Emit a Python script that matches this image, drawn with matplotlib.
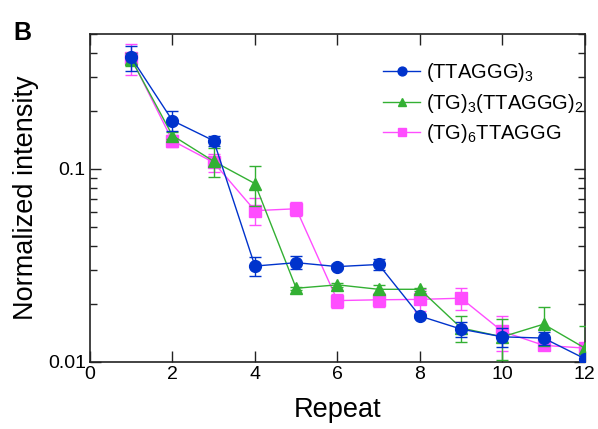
import numpy as np
import matplotlib
matplotlib.use("Agg")
import matplotlib.pyplot as plt
import matplotlib.ticker as ticker

plt.rcParams["font.family"] = ["Liberation Sans", "DejaVu Sans"]
plt.rcParams["mathtext.default"] = "regular"

# ── data ────────────────────────────────────────────────────────────────────
repeat = [1, 2, 3, 4, 5, 6, 7, 8, 9, 10, 11, 12]

ttaggg3 = [0.378, 0.178, 0.140, 0.0314, 0.0327, 0.0312, 0.0320, 0.0173, 0.0148, 0.0135, 0.0133, 0.0104]
ttaggg3_err = [0.057, 0.021, 0.009, 0.0036, 0.0025, 0.0008, 0.0020, 0.0005, 0.0014, 0.0015, 0.0010, 0.0003]

tg3_ttaggg2 = [0.370, 0.149, 0.1095, 0.084, 0.0241, 0.0251, 0.0238, 0.0238, 0.0150, 0.0135, 0.0157, 0.0118]
tg3_ttaggg2_err = [0.030, 0.006, 0.019, 0.020, 0.0005, 0.0005, 0.0014, 0.0005, 0.0023, 0.0032, 0.0036, 0.0035]

tg6_ttaggg = [0.375, 0.140, 0.108, 0.0608, 0.0622, 0.0208, 0.0210, 0.0211, 0.0214, 0.0144, 0.0122, 0.0118]
tg6_ttaggg_err = [0.067, 0.010, 0.012, 0.0095, 0.005, 0.0017, 0.0017, 0.0027, 0.0027, 0.0030, 0.0006, 0.0006]

labels = [r"(TTAGGG)$_3$", r"(TG)$_3$(TTAGGG)$_2$", r"(TG)$_6$TTAGGG"]

# ── figure ──────────────────────────────────────────────────────────────────
W, H = 598, 429
fig = plt.figure(figsize=(W / 100, H / 100), dpi=100)
ax = fig.add_axes([0.1505, 0.1562, 0.8275, 0.7645])

blue, green, pink = "#0033cc", "#33b033", "#ff4dff"
common = dict(capsize=4.5, elinewidth=1.0, capthick=1.0, lw=1.0, ms=8.5)

h_pink = ax.errorbar(repeat, tg6_ttaggg, yerr=tg6_ttaggg_err, color=pink,
                     marker="s", zorder=2, **common)
h_green = ax.errorbar(repeat, tg3_ttaggg2, yerr=tg3_ttaggg2_err, color=green,
                      marker="^", zorder=3, **common)
h_blue = ax.errorbar(repeat, ttaggg3, yerr=ttaggg3_err, color=blue,
                     marker="o", zorder=4, **common)

ax.set_yscale("log")
ax.set_xlim(0, 12)
ax.set_ylim(0.01, 0.5)
ax.set_xticks(range(0, 13, 2))
ax.xaxis.set_minor_locator(ticker.NullLocator())
ax.yaxis.set_major_locator(ticker.FixedLocator([0.01, 0.1]))
ax.yaxis.set_major_formatter(ticker.FixedFormatter(["0.01", "0.1"]))
ax.yaxis.set_minor_locator(ticker.LogLocator(base=10, subs=np.arange(2, 10)))
ax.yaxis.set_minor_formatter(ticker.NullFormatter())

ax.tick_params(which="both", direction="in", top=True, right=True,
               labelsize=14, width=1.0, color="#222", pad=3)
ax.tick_params(which="major", length=8)
ax.tick_params(which="minor", length=5)
for s in ax.spines.values():
    s.set_linewidth(1.2)
    s.set_color("#222")

ax.set_xlabel("Repeat", fontsize=19.5, labelpad=10)
ax.set_ylabel("Normalized intensity", fontsize=19.5, labelpad=6)

leg = ax.legend([h_blue[0], h_green[0], h_pink[0]], labels,
                loc="upper left", bbox_to_anchor=(383 / W, 1 - 61 / H),
                bbox_transform=fig.transFigure, borderaxespad=0, borderpad=0,
                frameon=False, fontsize=14.5, handlelength=1.85,
                handletextpad=0.3, labelspacing=0.38, markerscale=0.75)

fig.text(13 / W, 1 - 40 / H, "B", fontsize=18, fontweight="bold",
         va="baseline")

fig.savefig("out.png", dpi=100)
